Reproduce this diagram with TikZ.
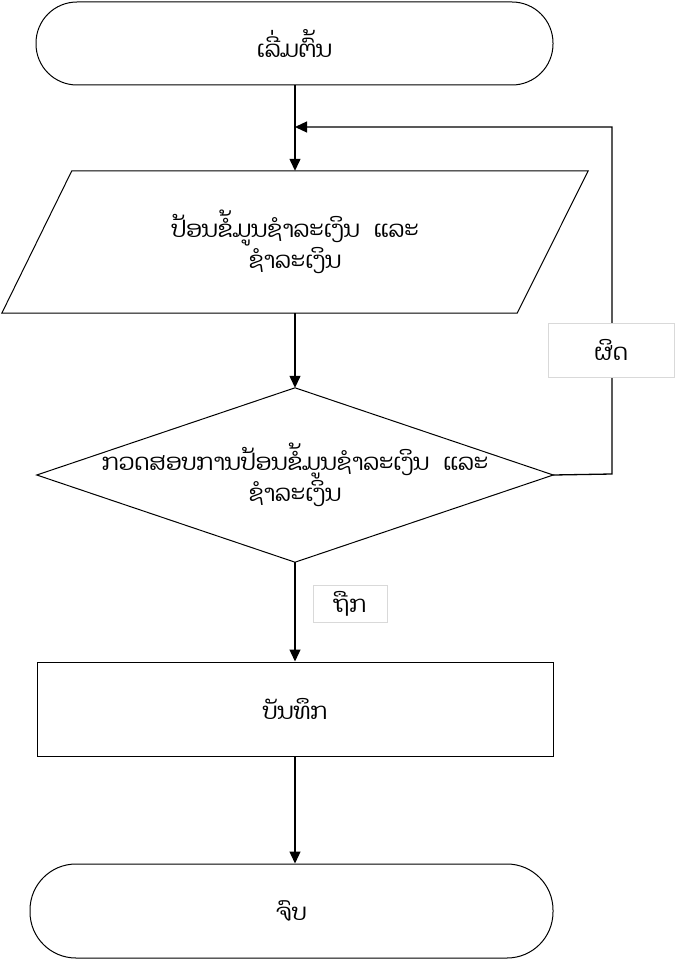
\documentclass[tikz,border=0pt]{standalone}
\usepackage{fontspec}
\newfontfamily\laofont[Script=Lao]{Dhyana}
\usetikzlibrary{arrows.meta}
\begin{document}
\begin{tikzpicture}[x=1pt,y=-1pt,
  every node/.style={font=\laofont\fontsize{23}{28}\selectfont, inner sep=0pt, align=center},
  outline/.style={draw=black, line width=1pt},
  flow/.style={draw=black, line width=1.3pt, -{Triangle[length=12pt,width=11pt]}},
  tag/.style={draw=black!15, fill=white, line width=0.8pt}]
\useasboundingbox (0,0) rectangle (675,960);

% shapes (text nodes carry the outline sizes)
\node[outline, rounded corners=41pt, minimum width=517pt, minimum height=83pt] (start) at (294.5,43.5) {ເລີ່ມຕົ້ນ};
\node[minimum width=586pt, minimum height=142pt] (input) at (295,242) {ປ້ອນຂໍ້ມູນຊຳລະເງິນ\hspace{0.6em}ແລະ\\ຊຳລະເງິນ};
\draw[outline] ([xshift=70pt]input.north west) -- (input.north east) -- ([xshift=-71pt]input.south east) -- (input.south west) -- cycle;
\node[minimum width=516pt, minimum height=174pt] (check) at (295,475) {ກວດສອບການປ້ອນຂໍ້ມູນຊຳລະເງິນ\hspace{0.6em}ແລະ\\ຊຳລະເງິນ};
\draw[outline] (check.north) -- (check.east) -- (check.south) -- (check.west) -- cycle;
\node[outline, minimum width=516pt, minimum height=94pt] (save) at (295,709) {ບັນທຶກ};
\node[outline, rounded corners=46pt, minimum width=523pt, minimum height=94pt] (stop) at (291.5,911) {ຈົບ};

% connectors
\coordinate (join) at (295,127);
\coordinate (rt) at (612,474);
\coordinate (rb) at (612,127);
\draw[flow] (input.north |- start.south) -- (input.north);
\draw[flow] (input.south) -- (check.north);
\draw[flow] (check.south) -- (save.north);
\draw[flow] (save.south) -- (save.south |- stop.north);
\draw[flow] (check.east) -- (rt) -- (rb) -- (join);

% branch labels
\node[tag, minimum width=126pt, minimum height=54pt] (no) at (611,350) {ຜິດ};
\node[tag, minimum width=74pt, minimum height=37pt] (yes) at (350,603.5) {ຖືກ};
\end{tikzpicture}
\end{document}
